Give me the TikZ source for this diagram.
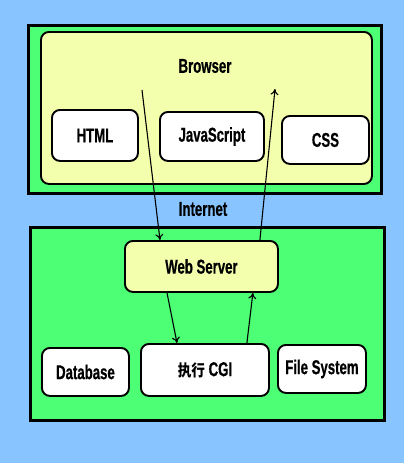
\documentclass[tikz,border=0pt]{standalone}
\usepackage{fontspec}
\usepackage{xcolor}
\usetikzlibrary{arrows.meta}
\setmainfont{Liberation Sans}[FakeStretch=0.66, BoldFeatures={FakeBold=0.6}]
\newfontfamily\cjkfont{Noto Sans CJK SC}[FakeStretch=0.85]
\definecolor{skycolor}{RGB}{136, 196, 255}
\definecolor{lawncolor}{RGB}{77, 255, 116}
\definecolor{creamcolor}{RGB}{244, 255, 174}
\tikzset{
        panel/.style={draw=black, line width=2.6pt, fill=lawncolor, anchor=north west, inner sep=0pt},
        part/.style={draw=black, line width=1.9pt, rounded corners=8pt, fill=white, anchor=north west, inner sep=0pt},
        flow/.style={-{To[length=6pt,width=8pt]}, line width=1.1pt},
}

\begin{document}
\begin{tikzpicture}[x=1pt, y=-1pt, font=\bfseries\fontsize{20}{23}\selectfont]
        \useasboundingbox[fill=skycolor] (0, 0) rectangle (404, 463);
        % Client side {{{
        \node[panel, minimum width=353, minimum height=168] (client) at (27, 24) {};
        \node[part, fill=creamcolor, minimum width=331, minimum height=152] (browser) at (40, 31) {};
        \node (browsertext) at (205, 66) {Browser};
        \node[part, minimum width=86, minimum height=51] (html) at (51, 109) {HTML};
        \node[part, minimum width=104, minimum height=49] (js) at (159, 111) {JavaScript};
        \node[part, minimum width=87, minimum height=48] (css) at (281, 115) {CSS};
        \coordinate (req) at (142, 90);
        \coordinate (resp) at (275, 89);
        % }}}
        \node (internet) at (203, 209) {Internet};
        % Server side {{{
        \node[panel, minimum width=354, minimum height=193] (server) at (29, 226) {};
        \node[part, fill=creamcolor, minimum width=153, minimum height=51] (websrv) at (124, 240) {Web Server};
        \node[part, minimum width=87, minimum height=48] (db) at (41, 347) {Database};
        \node[part, minimum width=128, minimum height=52] (cgi) at (140, 343) {{\cjkfont\fontsize{16}{18}\selectfont 执行} CGI};
        \node[part, minimum width=88, minimum height=48] (fs) at (277, 344) {File System};
        % }}}
        % Requests and replies {{{
        \draw[flow] (req) -- ([xshift=36pt]websrv.north west);
        \draw[flow] ([xshift=-19pt]websrv.north east) -- (resp);
        \draw[flow] ([xshift=43pt]websrv.south west) -- ([xshift=37pt]cgi.north west);
        \draw[flow] ([xshift=-23pt]cgi.north east) -- ([xshift=-26pt]websrv.south east);
        % }}}
\end{tikzpicture}
\end{document}
